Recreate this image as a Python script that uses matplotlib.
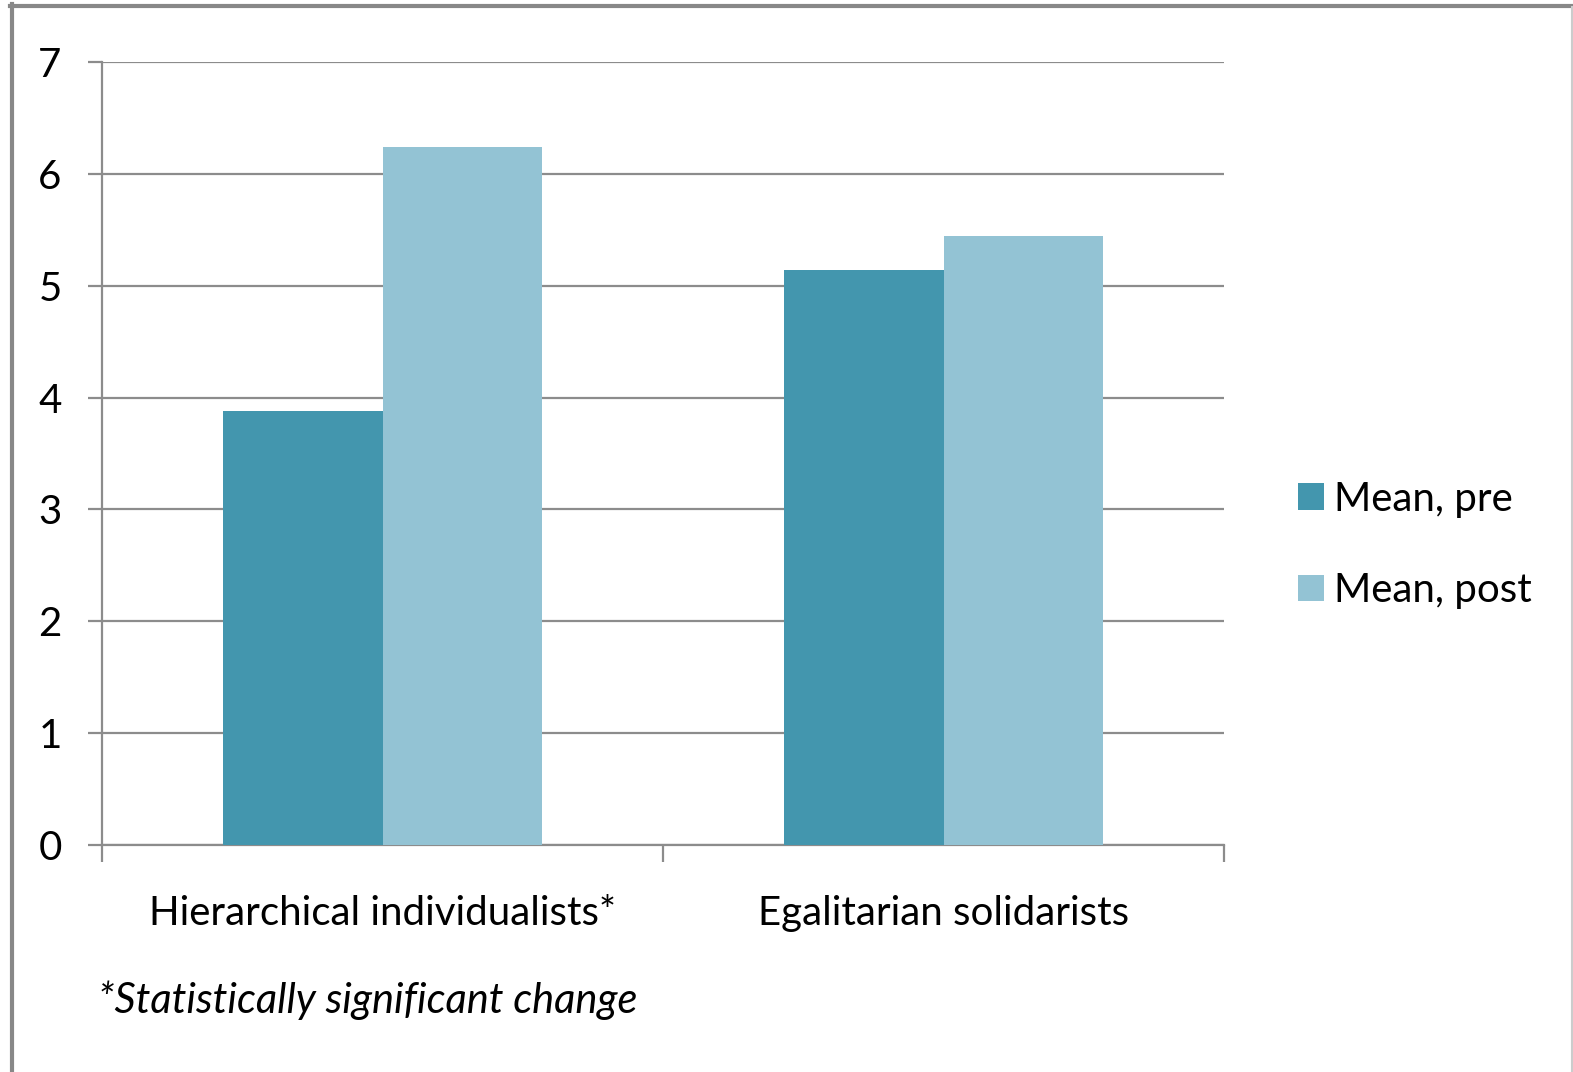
import numpy as np
import matplotlib.pyplot as plt
from matplotlib.lines import Line2D

plt.rcParams['font.family'] = ['Lato', 'DejaVu Sans']

# dati
categorie = ["Hierarchical individualists*", "Egalitarian solidarists"]
media_pre = [3.88, 5.14]
media_post = [6.24, 5.44]
serie = ["Mean, pre", "Mean, post"]
nota = "*Statistically significant change"

col_pre = '#4396AE'
col_post = '#93C3D4'
col_grigio = '#8C8C8C'

fig = plt.figure(figsize=(15.73, 10.72), dpi=100)
ax = fig.add_axes([102/1573, 1 - 845/1072, (1224 - 102)/1573, (845 - 62)/1072])

x = np.arange(len(categorie))
larg = 0.285
b1 = ax.bar(x - larg/2, media_pre, width=larg, color=col_pre, label=serie[0], zorder=3)
b2 = ax.bar(x + larg/2, media_post, width=larg, color=col_post, label=serie[1], zorder=3)

ax.set_xlim(-0.5, 1.5)
ax.set_ylim(0, 7)
ax.set_yticks(range(0, 8))
ax.yaxis.grid(True, color=col_grigio, linewidth=1.6, zorder=0)
ax.set_axisbelow(True)

# tick principali (etichette) senza trattino, minori ai bordi delle categorie
ax.set_xticks(x)
ax.set_xticklabels(categorie, fontsize=29)
ax.set_xticks([-0.5, 0.5, 1.5], minor=True)
ax.tick_params(axis='x', which='major', length=0, pad=36)
ax.tick_params(axis='x', which='minor', length=12, width=1.6, color=col_grigio)
ax.tick_params(axis='y', length=10, width=1.6, color=col_grigio, labelsize=29, pad=19)

for s in ['top', 'right']:
    ax.spines[s].set_visible(False)
for s in ['left', 'bottom']:
    ax.spines[s].set_color(col_grigio)
    ax.spines[s].set_linewidth(1.6)

leg = fig.legend(handles=[b1, b2], labels=serie, loc='center left',
                 bbox_to_anchor=(1262/1573, 1 - 545/1072), frameon=False,
                 fontsize=29, handlelength=0.65, handleheight=0.65,
                 handletextpad=0.25, labelspacing=1.35)

fig.text(98/1573, 1 - 1000/1072, nota, fontsize=30, style='italic',
         ha='left', va='center')

# cornice esterna grigia
fig.add_artist(Line2D([10/1573, 1], [1 - 5.5/1072, 1 - 5.5/1072],
                      transform=fig.transFigure, color='#888888', linewidth=3))
fig.add_artist(Line2D([11.5/1573, 11.5/1573], [0, 1 - 4/1072],
                      transform=fig.transFigure, color='#888888', linewidth=3))
fig.add_artist(Line2D([1572/1573, 1572/1573], [0, 1 - 7/1072],
                      transform=fig.transFigure, color='#CCCCCC', linewidth=1.5))

fig.savefig('out.png', dpi=100)
